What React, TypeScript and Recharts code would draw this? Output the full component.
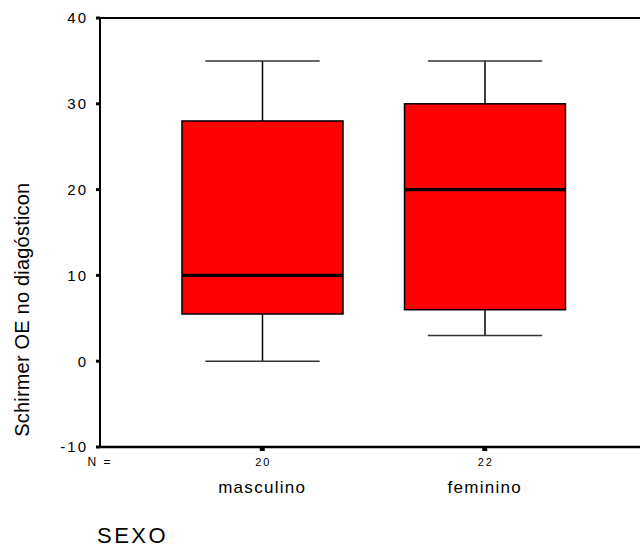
import { Bar, BarChart, ReferenceLine, XAxis, YAxis } from "recharts"

// Schirmer test (OE) at diagnosis, by sex
const categories = ["masculino", "feminino"]
const counts = [20, 22]
const whiskerLow = [0, 3]
const q1 = [5.5, 6]
const medians = [10, 20]
const q3 = [28, 30]
const whiskerHigh = [35, 35]
const yTicks = [-10, 0, 10, 20, 30, 40]

const FONT = '"Liberation Sans", Arial, Helvetica, sans-serif'
const BOX_FILL = "#ff0000"

const data = categories.map((name, i) => ({
  name,
  count: counts[i],
  range: [whiskerLow[i], whiskerHigh[i]],
  q1: q1[i],
  median: medians[i],
  q3: q3[i],
}))

function BoxShape(props: any) {
  const { x, y, width, height, payload } = props
  const top = Math.min(y, y + height)
  const bottom = Math.max(y, y + height)
  const [lo, hi] = payload.range as number[]
  // pixel position of a value, from the bar's own span (lo..hi)
  const py = (v: number) => bottom - ((v - lo) / (hi - lo)) * (bottom - top)
  const cx = x + width / 2
  const capHalf = width * 0.355
  const yq1 = py(payload.q1)
  const yq3 = py(payload.q3)
  const ymed = py(payload.median)
  return (
    <g>
      <line x1={cx} x2={cx} y1={top} y2={yq3} stroke="#000" strokeWidth={1.5} />
      <line x1={cx} x2={cx} y1={yq1} y2={bottom} stroke="#000" strokeWidth={1.5} />
      <line x1={cx - capHalf} x2={cx + capHalf} y1={top} y2={top} stroke="#333" strokeWidth={1.5} />
      <line x1={cx - capHalf} x2={cx + capHalf} y1={bottom} y2={bottom} stroke="#333" strokeWidth={1.5} />
      <rect
        x={x}
        y={yq3}
        width={width}
        height={yq1 - yq3}
        fill={BOX_FILL}
        stroke="#000"
        strokeWidth={1.5}
      />
      <line x1={x} x2={x + width} y1={ymed} y2={ymed} stroke="#000" strokeWidth={3.3} />
    </g>
  )
}

function CategoryTick(props: any) {
  const { x, y, payload, index } = props
  return (
    <g>
      <text
        x={x + 1}
        y={y + 15}
        textAnchor="middle"
        fontFamily={FONT}
        fontSize={11}
        letterSpacing={2}
        fill="#000"
      >
        {counts[index]}
      </text>
      <text
        x={x}
        y={y + 42}
        textAnchor="middle"
        fontFamily={FONT}
        fontSize={17}
        letterSpacing={1.3}
        fill="#000"
      >
        {payload.value}
      </text>
    </g>
  )
}

function XAxisTitle(props: any) {
  const { x, y } = props.viewBox
  return (
    <g>
      <text x={x} y={y + 19} textAnchor="middle" fontFamily={FONT} fontSize={12} letterSpacing={2} fill="#000">
        N =
      </text>
      <text x={x - 3} y={y + 96} textAnchor="start" fontFamily={FONT} fontSize={22} letterSpacing={2.5} fill="#000">
        SEXO
      </text>
    </g>
  )
}

function YAxisTitle(props: any) {
  const { y, height } = props.viewBox
  const cx = 29
  const cy = y + height * 0.68
  return (
    <text
      x={cx}
      y={cy}
      transform={`rotate(-90 ${cx} ${cy})`}
      textAnchor="middle"
      fontFamily={FONT}
      fontSize={20}
      letterSpacing={0.2}
      fill="#000"
    >
      Schirmer OE no diagósticon
    </text>
  )
}

export default function App() {
  return (
    <div style={{ position: "absolute", left: 0, top: 0, background: "#fff" }}>
      <BarChart
        width={640}
        height={547}
        data={data}
        margin={{ top: 18, right: 0, bottom: 0, left: 0 }}
      >
        <XAxis
          dataKey="name"
          height={100}
          padding={{ left: 51, right: 44 }}
          axisLine={{ stroke: "#000", strokeWidth: 2.5 }}
          tickLine={{ stroke: "#000", strokeWidth: 5 }}
          tickSize={4}
          tickMargin={0}
          tick={<CategoryTick />}
          label={{ content: <XAxisTitle /> }}
        />
        <YAxis
          type="number"
          domain={[-10, 40]}
          ticks={yTicks}
          width={100}
          axisLine={{ stroke: "#000", strokeWidth: 2 }}
          tickLine={{ stroke: "#000", strokeWidth: 3 }}
          tickSize={4}
          tickMargin={8}
          tick={{ fill: "#000", fontSize: 15, fontFamily: FONT, letterSpacing: 2 }}
          label={{ content: <YAxisTitle /> }}
        />
        <ReferenceLine y={40} stroke="#000" strokeWidth={2} />
        <Bar dataKey="range" barSize={161} shape={<BoxShape />} isAnimationActive={false} />
      </BarChart>
    </div>
  )
}
